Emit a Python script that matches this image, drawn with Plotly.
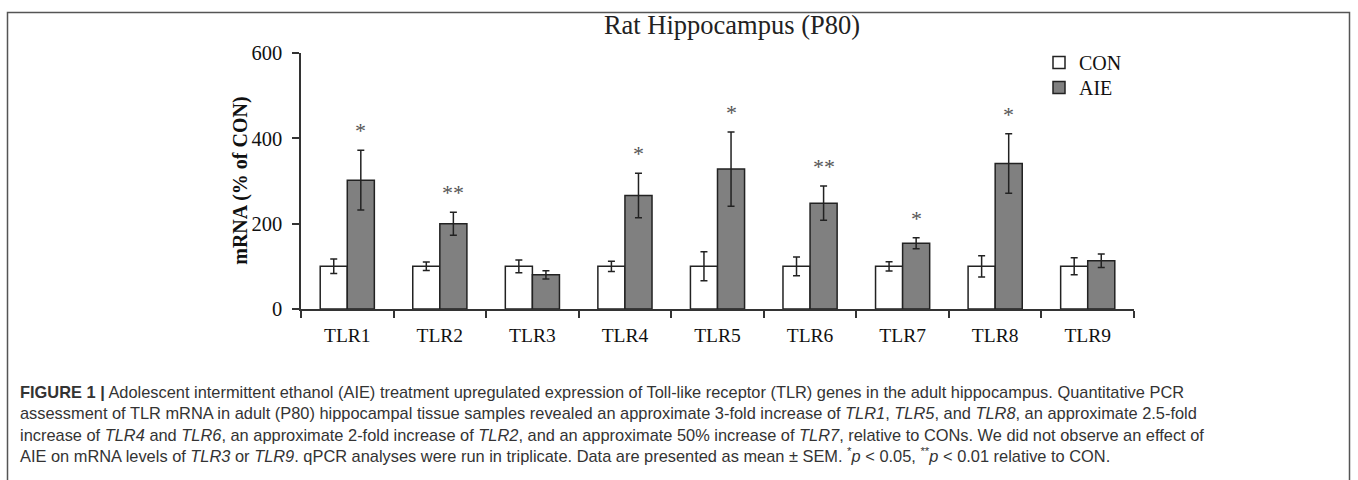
import plotly.graph_objects as go

# ---- data ----
categories = ["TLR1", "TLR2", "TLR3", "TLR4", "TLR5", "TLR6", "TLR7", "TLR8", "TLR9"]
con_mean = [100, 100, 100, 100, 100, 100, 100, 100, 100]
con_sem = [17, 10, 15, 12, 34, 22, 11, 25, 20]
aie_mean = [302, 200, 80, 266, 328, 248, 154, 341, 113]
aie_sem = [70, 27, 9.5, 52, 87, 40, 13, 70, 16]
significance = ["*", "**", "", "*", "*", "**", "*", "*", ""]
y_ticks = [0, 200, 400, 600]

W, H = 1358, 480
L, R, T, B = 301, 1358 - 1134, 53, 480 - 309.5
PW, PH = W - L - R, H - T - B


def px_x(p):
    return (p - L) / PW


def px_y(p):
    return (H - B - p) / PH


serif = "Liberation Serif, Times New Roman, serif"
sans = "Liberation Sans, Arial, sans-serif"

fig = go.Figure()
fig.add_trace(go.Bar(
    name="CON", x=categories, y=con_mean, legend="legend",
    marker=dict(color="white", line=dict(color="#222", width=1.5)),
    error_y=dict(type="data", array=con_sem, color="#222", thickness=1.5, width=3.5),
))
fig.add_trace(go.Bar(
    name="AIE", x=categories, y=aie_mean, legend="legend2",
    marker=dict(color="#808080", line=dict(color="#222", width=1.5)),
    error_y=dict(type="data", array=aie_sem, color="#222", thickness=1.5, width=3.5),
))

annotations = []
for c, m, s, sig in zip(categories, aie_mean, aie_sem, significance):
    if sig:
        annotations.append(dict(
            x=c, y=m + s, xref="x", yref="y", text=sig, showarrow=False,
            xanchor="center", yanchor="bottom", xshift=13.5, yshift=5,
            font=dict(family=serif, size=22, color="#555"),
        ))

# y-axis title
annotations.append(dict(
    x=px_x(241), y=px_y(181), xref="paper", yref="paper", text="<b>mRNA (% of CON)</b>",
    showarrow=False, textangle=-90, xanchor="center", yanchor="middle",
    font=dict(family=serif, size=20, color="#111"),
))

caption = (
    "<b>FIGURE 1 |</b> Adolescent intermittent ethanol (AIE) treatment upregulated expression of Toll-like receptor (TLR) genes in the adult hippocampus. Quantitative PCR<br>"
    "assessment of TLR mRNA in adult (P80) hippocampal tissue samples revealed an approximate 3-fold increase of <i>TLR1</i>, <i>TLR5</i>, and <i>TLR8</i>, an approximate 2.5-fold<br>"
    "increase of <i>TLR4</i> and <i>TLR6</i>, an approximate 2-fold increase of <i>TLR2</i>, and an approximate 50% increase of <i>TLR7</i>, relative to CONs. We did not observe an effect of<br>"
    "AIE on mRNA levels of <i>TLR3</i> or <i>TLR9</i>. qPCR analyses were run in triplicate. Data are presented as mean \u00b1 SEM. <sup>*</sup><i>p</i> &lt; 0.05, <sup>**</sup><i>p</i> &lt; 0.01 relative to CON."
)
annotations.append(dict(
    x=px_x(18), y=px_y(382), xref="paper", yref="paper", text=caption, showarrow=False,
    xanchor="left", yanchor="top", align="left",
    font=dict(family=sans, size=16.4, color="#333"),
))

shapes = [dict(
    type="rect", xref="paper", yref="paper",
    x0=px_x(7.5), x1=px_x(1349.5), y0=px_y(520), y1=px_y(12.5),
    line=dict(color="#555", width=1.5), fillcolor="rgba(0,0,0,0)", layer="below",
)]

legend_style = dict(xanchor="left", yanchor="top",
                    font=dict(family=serif, size=20, color="#111"),
                    bgcolor="rgba(0,0,0,0)", itemwidth=30)

fig.update_layout(
    width=W, height=H,
    margin=dict(l=L, r=R, t=T, b=B, pad=0),
    paper_bgcolor="white", plot_bgcolor="white",
    barmode="group", bargap=0.415, bargroupgap=0,
    title=dict(text="Rat Hippocampus (P80)", x=732 / W, xanchor="center",
               y=1 - 25 / H, yanchor="middle", xref="container", yref="container",
               font=dict(family=serif, size=26.5, color="#222")),
    showlegend=True,
    legend=dict(x=px_x(1039), y=px_y(43), **legend_style),
    legend2=dict(x=px_x(1039), y=px_y(68), **legend_style),
    xaxis=dict(type="category", range=[-0.5, 8.5], showline=True, linecolor="#333", linewidth=1.5,
               ticks="outside", tickson="boundaries", ticklen=7, tickcolor="#333", tickwidth=1.5,
               tickfont=dict(family=serif, size=19.5, color="#111"), showgrid=False,
               ticklabelstandoff=8, fixedrange=True),
    yaxis=dict(range=[0, 600], tickvals=y_ticks, showline=True, linecolor="#333", linewidth=1.5,
               ticks="outside", ticklen=7, tickcolor="#333", tickwidth=1.5,
               tickfont=dict(family=serif, size=20.5, color="#111"), showgrid=False, zeroline=False,
               ticklabelstandoff=6, fixedrange=True),
    annotations=annotations,
    shapes=shapes,
)

fig.write_html("out.html", config={"displayModeBar": False},
               post_script="document.body.style.margin='0';")
